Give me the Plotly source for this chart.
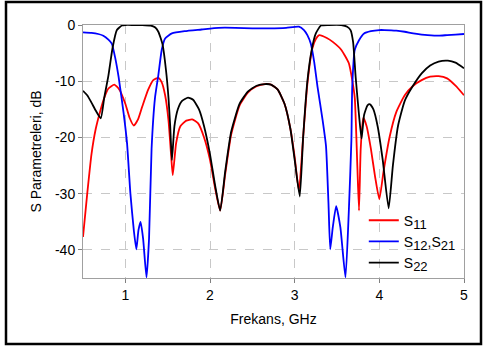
import plotly.graph_objects as go

# Frequencies (GHz) and values (dB)
s11_f = [0.50, 0.55, 0.60, 0.65, 0.70, 0.75, 0.80, 0.87, 0.93, 1.00, 1.05, 1.10, 1.15, 1.20, 1.27, 1.33, 1.39,
         1.43, 1.47, 1.51, 1.54, 1.56, 1.60, 1.65, 1.72, 1.79, 1.86, 1.93, 2.00, 2.06, 2.12, 2.18, 2.25, 2.35,
         2.45, 2.55, 2.65, 2.72, 2.80, 2.88, 2.95, 3.00, 3.05, 3.10, 3.15, 3.21, 3.25, 3.29, 3.38, 3.45, 3.55,
         3.64, 3.68, 3.71, 3.74, 3.76, 3.78, 3.81, 3.85, 3.90, 3.95, 4.00, 4.05, 4.12, 4.20, 4.30, 4.40, 4.50,
         4.60, 4.70, 4.80, 4.90, 5.00]
s11_db = [-37.7, -30.0, -23.0, -18.5, -15.5, -13.0, -11.3, -10.6, -11.5, -14.0, -16.5, -17.9, -16.8, -14.5, -11.5,
          -9.8, -9.4, -10.2, -12.5, -17.0, -23.0, -26.7, -21.0, -18.0, -17.0, -16.8, -17.5, -20.0, -24.0, -29.0,
          -33.0, -26.5, -19.5, -14.3, -12.0, -10.9, -10.5, -10.6, -11.5, -14.0, -18.5, -23.5, -29.5, -20.0, -10.5,
          -4.1, -2.5, -1.8, -2.3, -3.0, -4.4, -6.8, -9.8, -13.0, -25.0, -33.0, -22.0, -16.5, -18.0, -22.0, -27.0,
          -31.0, -26.0, -20.0, -15.5, -12.5, -10.8, -9.8, -9.2, -9.1, -9.5, -10.8, -12.5]

s21_f = [0.50, 0.60, 0.68, 0.74, 0.80, 0.84, 0.88, 0.92, 0.98, 1.02, 1.06, 1.10, 1.13, 1.155, 1.18, 1.21, 1.25,
         1.28, 1.31, 1.35, 1.39, 1.43, 1.47, 1.55, 1.70, 1.90, 2.10, 2.30, 2.50, 2.70, 2.90, 3.05, 3.11, 3.15,
         3.19, 3.23, 3.27, 3.33, 3.37, 3.40, 3.42, 3.45, 3.49, 3.54, 3.60, 3.64, 3.67, 3.68, 3.71, 3.76, 3.82,
         3.90, 4.00, 4.06, 4.20, 4.30, 4.40, 4.50, 4.57, 4.70, 4.80, 4.90, 5.00]
s21_db = [-1.3, -1.4, -1.6, -1.9, -2.6, -3.3, -5.8, -9.2, -15.7, -21.0, -30.0, -36.5, -39.9, -36.5, -35.0, -38.0,
          -44.9, -38.0, -22.0, -13.0, -8.9, -4.4, -2.4, -1.5, -1.1, -0.8, -0.5, -0.5, -0.6, -0.6, -0.5, -0.3,
          -0.9, -1.8, -3.3, -6.5, -11.0, -16.9, -21.5, -32.0, -39.9, -36.0, -32.2, -36.0, -44.9, -33.0, -20.5,
          -11.0, -4.4, -2.7, -1.5, -1.1, -0.9, -0.9, -1.0, -1.2, -1.5, -1.7, -1.8, -1.9, -1.8, -1.7, -1.6]

s22_f = [0.50, 0.55, 0.60, 0.65, 0.71, 0.75, 0.80, 0.85, 0.90, 0.96, 1.00, 1.10, 1.20, 1.30, 1.35, 1.39, 1.41,
         1.44, 1.48, 1.51, 1.53, 1.55, 1.58, 1.62, 1.67, 1.74, 1.80, 1.87, 1.93, 2.00, 2.06, 2.12, 2.18, 2.25,
         2.35, 2.45, 2.55, 2.65, 2.72, 2.80, 2.88, 2.95, 3.00, 3.06, 3.10, 3.15, 3.20, 3.25, 3.31, 3.40, 3.55,
         3.62, 3.66, 3.69, 3.72, 3.76, 3.79, 3.82, 3.86, 3.89, 3.93, 3.98, 4.04, 4.11, 4.16, 4.22, 4.30, 4.39,
         4.50, 4.60, 4.70, 4.81, 4.90, 5.00]
s22_db = [-11.7, -12.5, -13.8, -15.2, -16.6, -13.0, -9.0, -4.0, -0.9, -0.1, 0.0, 0.0, 0.0, -0.1, -0.4, -1.2,
          -2.0, -3.5, -8.0, -13.0, -18.0, -24.0, -18.0, -15.0, -13.5, -12.9, -13.3, -15.0, -18.0, -23.0, -28.5,
          -33.0, -26.0, -19.0, -14.0, -11.8, -10.8, -10.5, -10.6, -11.5, -14.0, -18.5, -24.0, -30.5, -20.0, -10.0,
          -4.5, -1.5, -0.1, 0.0, 0.0, -0.3, -0.9, -3.0, -9.2, -16.0, -20.2, -16.0, -14.3, -14.1, -15.0, -18.0,
          -24.0, -32.6, -25.0, -18.0, -13.5, -11.0, -8.6, -7.2, -6.5, -6.35, -6.7, -7.7]

x_ticks = [1, 2, 3, 4, 5]
y_ticks = [0, -10, -20, -30, -40]

FONT = "Liberation Sans, Arial, sans-serif"
SUB = "<span style='font-size:13px'>{}</span>"

fig = go.Figure()
fig.add_trace(go.Scatter(x=s11_f, y=s11_db, mode="lines", name="S<sub>" + SUB.format("11") + "</sub>",
                         line=dict(color="#ff0000", width=1.8, shape="spline", smoothing=0.5)))
fig.add_trace(go.Scatter(x=s21_f, y=s21_db, mode="lines",
                         name="S<sub>" + SUB.format("12") + "</sub>,S<sub>" + SUB.format("21") + "</sub>",
                         line=dict(color="#0000ff", width=1.8, shape="spline", smoothing=0.5)))
fig.add_trace(go.Scatter(x=s22_f, y=s22_db, mode="lines", name="S<sub>" + SUB.format("22") + "</sub>",
                         line=dict(color="#000000", width=1.8, shape="spline", smoothing=0.5)))

axis_common = dict(
    showline=True, linecolor="#a0a0a0", linewidth=1, mirror=True,
    showgrid=True, gridcolor="#c8c8c8", griddash="dash", gridwidth=1,
    ticks="outside", ticklen=4, tickcolor="#808080",
    tickfont=dict(family=FONT, size=14, color="#000000"),
    zeroline=False,
)

fig.update_layout(
    width=484, height=351,
    margin=dict(l=83, r=20, t=25, b=73),
    paper_bgcolor="white", plot_bgcolor="white",
    font=dict(family=FONT, size=14, color="#000000"),
    xaxis=dict(range=[0.5, 5], tickvals=x_ticks, ticktext=[str(v) for v in x_ticks],
               title=dict(text="Frekans, GHz", font=dict(family=FONT, size=14), standoff=12),
               **axis_common),
    yaxis=dict(range=[-45, 0], tickvals=y_ticks, ticktext=[str(v) for v in y_ticks],
               title=dict(text="S Parametreleri, dB", font=dict(family=FONT, size=14), standoff=10),
               **axis_common),
    legend=dict(x=0.737, y=0.29, xanchor="left", yanchor="top",
                bgcolor="rgba(0,0,0,0)", borderwidth=0, tracegroupgap=0,
                font=dict(family=FONT, size=14, color="#000000")),
    showlegend=True,
)

# outer black frame
fig.add_shape(type="rect", xref="paper", yref="paper",
              x0=(6 - 83) / 381, x1=(481 - 83) / 381, y0=(278 - 344) / 253, y1=1 + (25 - 2) / 253,
              line=dict(color="black", width=2.5), fillcolor="rgba(0,0,0,0)", layer="above")

fig.write_html("out.html")
